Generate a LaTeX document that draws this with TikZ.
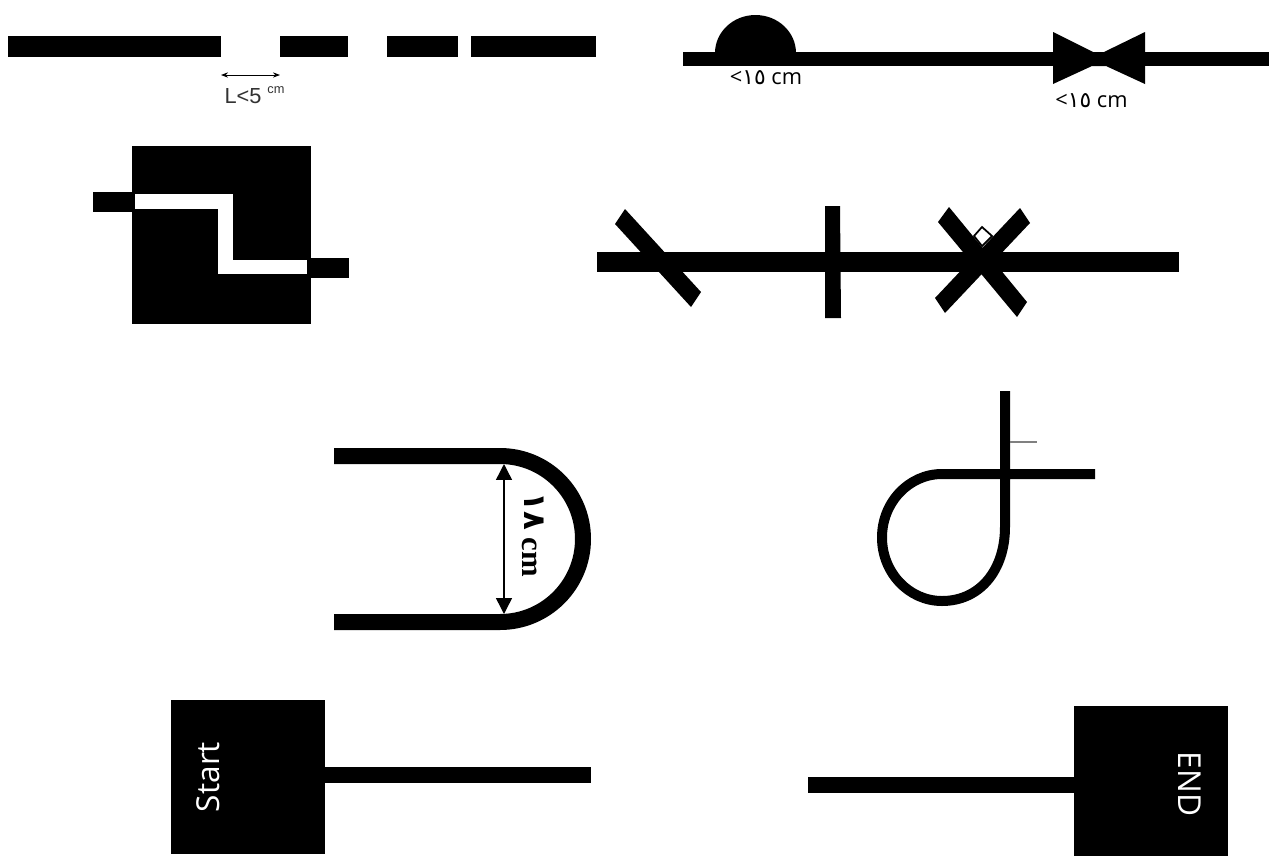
\documentclass[tikz,border=0pt]{standalone}
\usepackage{fontspec}
\setmainfont{Open Sans}
\newfontfamily\arialfont{Liberation Sans}
\newfontfamily\timesfont{Liberation Serif}
\newfontfamily\arabicfont[Script=Arabic]{DejaVu Sans}
\usetikzlibrary{arrows.meta,positioning}

\begin{document}
\begin{tikzpicture}[
    x=0.02cm, y=0.02cm,
    >=Stealth,
    thintrack/.style={line width=0.2cm},
    blackbox/.style={rectangle, fill=black, minimum width=3.08cm, minimum height=3.08cm, inner sep=0pt},
    boxtext/.style={text=white, font=\fontsize{18}{20}\selectfont},
    sizelabel/.style={font=\fontsize{12.4}{14}\selectfont, inner sep=0pt}
  ]
  \useasboundingbox (0,0) rectangle (1269,-856);
  % Broken line with gap
  \foreach \xa/\xb in {8/221, 280/348, 387/458, 471/596}
    \fill (\xa,-36) rectangle (\xb,-57);
  \coordinate (gapl) at (221,-75);
  \coordinate (gapr) at (280,-75);
  \draw[{Stealth[length=4pt]}-{Stealth[length=4pt]}, line width=0.5pt] (gapl) -- (gapr);
  \node[inner sep=0pt, font=\arialfont\fontsize{12.4}{14}\selectfont, text=black!80] (gaplabel) at (243,-96) {L<5};
  \node[inner sep=0pt, font=\arialfont\fontsize{7.3}{9}\selectfont, text=black!80] (gapunit) at (276,-90) {cm};

  % Bump and narrowing
  \coordinate (bumpl) at (683,-58.8);
  \coordinate (bumpr) at (1269,-58.8);
  \draw[line width=0.27cm] (bumpl) -- (bumpr);
  \fill (715,-53) arc[start angle=180, end angle=0, x radius=40.5, y radius=38] -- cycle;
  \fill (1053,-32) -- (1093,-52) -- (1104,-52) -- (1145,-32) -- (1145,-84)
    -- (1106,-66) -- (1092,-66) -- (1053,-84) -- cycle;
  \node[sizelabel] (bumplabel) at (766,-78) {<{\arabicfont ١٥} cm};
  \node[sizelabel] (narrowlabel) at (1091.5,-101) {<{\arabicfont ١٥} cm};

  % Block with shifted line
  \fill (132,-146) rectangle (311,-324);
  \fill (93,-192) rectangle (134,-212);
  \fill (307,-258) rectangle (349,-278);
  \draw[line width=0.29cm, white] (135,-201.5) -- (225.5,-201.5) -- (225.5,-267) -- (307,-267);

  % Crossing strokes
  \coordinate (crossl) at (597,-262);
  \coordinate (crossr) at (1179,-262);
  \draw[line width=0.4cm] (crossl) -- (crossr);
  \fill (625,-209) -- (615,-224) -- (691,-307) -- (701,-292) -- cycle;
  \fill (825,-206) -- (840,-206) -- (841,-318) -- (825,-318) -- cycle;
  \draw[fill=white, line width=1pt] (982,-227) -- (992,-236) -- (982,-246) -- (974,-236) -- cycle;
  \fill (949,-207) -- (938,-222) -- (1017,-317) -- (1027,-302) -- cycle;
  \fill (1020,-208) -- (1030,-223) -- (945,-313) -- (935,-298) -- cycle;

  % U bend
  \draw[line width=0.32cm] (334,-456) -- (500,-456) arc[start angle=90, end angle=-90, radius=83] -- (334,-622);
  \coordinate (bendtop) at (504,-464);
  \coordinate (bendbot) at (504,-614);
  \draw[{Triangle[length=9pt, width=9pt]}-{Triangle[length=9pt, width=9pt]}, line width=0.8pt] (bendtop) -- (bendbot);
  \node[rotate=-90, inner sep=0pt, font=\timesfont\bfseries\fontsize{17.5}{19}\selectfont] (bendlabel) at (533,-535) {\raisebox{1.5pt}{\arabicfont ١٨} cm};

  % Loop
  \draw[thintrack] (1005,-391) -- (1005,-527) .. controls (1005,-570) and (980,-601) .. (942,-601)
    arc[start angle=-90, end angle=-270, x radius=60, y radius=63.5] -- (1095,-474);
  \draw[black!50, line width=0.6pt] (1010,-442) -- (1037,-442);

  % Start and end
  \node[blackbox] (start) at (248,-777) {};
  \coordinate (startend) at (591,-775);
  \draw[line width=0.32cm] (start.east |- startend) -- (startend);
  \node[boxtext, rotate=90] (starttext) at (208,-777) {Start};

  \node[blackbox, minimum height=3cm] (end) at (1151,-781) {};
  \coordinate (endstart) at (808,-785);
  \draw[line width=0.32cm] (endstart) -- (end.west |- endstart);
  \node[boxtext, rotate=-90] (endtext) at (1190,-784) {END};
\end{tikzpicture}
\end{document}
